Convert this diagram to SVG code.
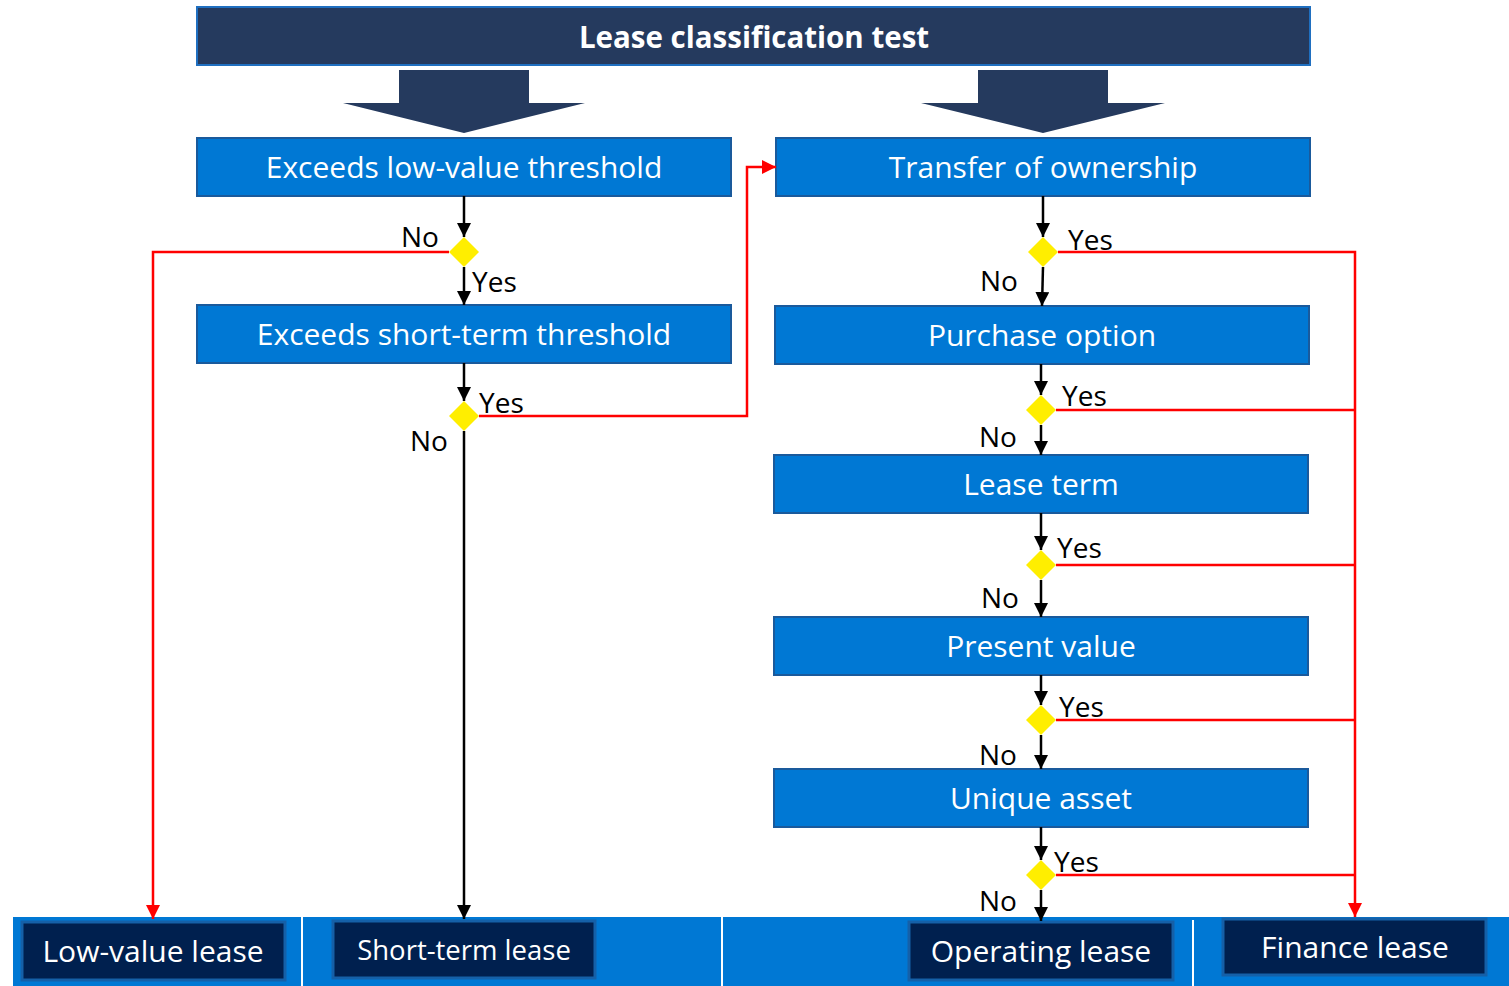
<svg xmlns="http://www.w3.org/2000/svg" width="1509" height="986" viewBox="0 0 1509 986">
<defs>
<style>
.box{fill:#0078d4;stroke:#1a5a9c;stroke-width:2}
.res{fill:#00204f;stroke:#1560a8;stroke-width:3}
.bt{font-family:"Open Sans","Noto Sans",sans-serif;font-size:30px;fill:#ffffff;text-anchor:middle}
.lb{font-family:"Open Sans","Noto Sans",sans-serif;font-size:28px;fill:#000000}
.dia{fill:#ffee00}
.blk{stroke:#000;stroke-width:2.5;fill:none;marker-end:url(#ab)}
.red{stroke:#ff0000;stroke-width:2.5;fill:none}
.reda{stroke:#ff0000;stroke-width:2.5;fill:none;marker-end:url(#ar)}
.big{fill:#253a5e}
</style>
<marker id="ab" markerWidth="14" markerHeight="14" refX="14" refY="7" orient="auto" markerUnits="userSpaceOnUse" viewBox="0 0 14 14">
<path d="M0,0 L14,7 L0,14 Z" fill="#000"/>
</marker>
<marker id="ar" markerWidth="14" markerHeight="14" refX="14" refY="7" orient="auto" markerUnits="userSpaceOnUse" viewBox="0 0 14 14">
<path d="M0,0 L14,7 L0,14 Z" fill="#ff0000"/>
</marker>
</defs>
<rect width="1509" height="986" fill="#ffffff"/>

<g id="title">
<rect x="197" y="7" width="1113" height="58" fill="#253a5e" stroke="#1f6fc0" stroke-width="2"/>
<text x="754" y="48" font-family="'Open Sans','Noto Sans',sans-serif" font-size="29.5" font-weight="bold" fill="#fff" text-anchor="middle">Lease classification test</text>
</g>

<g id="bigarrows">
<path class="big" d="M399,70 H529 V103 H585 L464,133 L343,103 H399 Z"/>
<path class="big" d="M978,70 H1108 V103 H1165 L1043,133 L921,103 H978 Z"/>
</g>

<g id="band">
<rect x="13" y="917" width="1496" height="69" fill="#0078d4"/>
<line x1="302" y1="917" x2="302" y2="986" stroke="#ffffff" stroke-width="2"/>
<line x1="722" y1="917" x2="722" y2="986" stroke="#ffffff" stroke-width="2"/>
<line x1="1193" y1="920" x2="1193" y2="986" stroke="#ffffff" stroke-width="2"/>
</g>

<g id="n-lowvalue"><rect class="box" x="197" y="138" width="534" height="58"/><text class="bt" x="464" y="178">Exceeds low-value threshold</text></g>
<g id="n-shortterm"><rect class="box" x="197" y="305" width="534" height="58"/><text class="bt" x="464" y="345">Exceeds short-term threshold</text></g>
<g id="n-transfer"><rect class="box" x="776" y="138" width="534" height="58"/><text class="bt" x="1043" y="178">Transfer of ownership</text></g>
<g id="n-purchase"><rect class="box" x="775" y="306" width="534" height="58"/><text class="bt" x="1042" y="346">Purchase option</text></g>
<g id="n-leaseterm"><rect class="box" x="774" y="455" width="534" height="58"/><text class="bt" x="1041" y="495">Lease term</text></g>
<g id="n-pv"><rect class="box" x="774" y="617" width="534" height="58"/><text class="bt" x="1041" y="657">Present value</text></g>
<g id="n-unique"><rect class="box" x="774" y="769" width="534" height="58"/><text class="bt" x="1041" y="809">Unique asset</text></g>

<g id="r-lowvalue"><rect class="res" x="22" y="922" width="263" height="58"/><text class="bt" x="153" y="962">Low-value lease</text></g>
<g id="r-shortterm"><rect class="res" x="333" y="921" width="262" height="57"/><text class="bt" x="464" y="960" style="font-size:27.5px">Short-term lease</text></g>
<g id="r-operating"><rect class="res" x="909" y="922" width="264" height="58"/><text class="bt" x="1041" y="962">Operating lease</text></g>
<g id="r-finance"><rect class="res" x="1223" y="919" width="263" height="56"/><text class="bt" x="1355" y="958">Finance lease</text></g>

<g id="decisions">
<path class="dia" d="M464,237 L479,252 L464,267 L449,252 Z"/>
<path class="dia" d="M464,401 L479,416 L464,431 L449,416 Z"/>
<path class="dia" d="M1043,237 L1058,252 L1043,267 L1028,252 Z"/>
<path class="dia" d="M1041,395 L1056,410 L1041,425 L1026,410 Z"/>
<path class="dia" d="M1041,550 L1056,565 L1041,580 L1026,565 Z"/>
<path class="dia" d="M1041,705 L1056,720 L1041,735 L1026,720 Z"/>
<path class="dia" d="M1041,860 L1056,875 L1041,890 L1026,875 Z"/>
</g>

<g id="connectors">
<path class="blk" d="M464,196 V237"/>
<path class="blk" d="M464,267 V305"/>
<path class="reda" d="M449,252 H153 V919"/>
<path class="blk" d="M464,363 V401"/>
<path class="reda" d="M479,416 H747 V167 H776"/>
<path class="blk" d="M464,431 V919"/>
<path class="blk" d="M1043,196 V237"/>
<path class="reda" d="M1058,252 H1355 V917"/>
<path class="blk" d="M1043,267 L1042,306"/>
<path class="blk" d="M1041,364 V395"/>
<path class="red" d="M1056,410 H1355"/>
<path class="blk" d="M1041,425 V455"/>
<path class="blk" d="M1041,513 V550"/>
<path class="red" d="M1056,565 H1355"/>
<path class="blk" d="M1041,580 V617"/>
<path class="blk" d="M1041,675 V705"/>
<path class="red" d="M1056,720 H1355"/>
<path class="blk" d="M1041,735 V769"/>
<path class="blk" d="M1041,827 V860"/>
<path class="red" d="M1056,875 H1355"/>
<path class="blk" d="M1041,890 V921"/>
</g>

<g id="labels">
<text class="lb" x="401" y="247">No</text>
<text class="lb" x="472" y="292">Yes</text>
<text class="lb" x="479" y="413">Yes</text>
<text class="lb" x="410" y="451">No</text>
<text class="lb" x="1068" y="250">Yes</text>
<text class="lb" x="980" y="291">No</text>
<text class="lb" x="1062" y="406">Yes</text>
<text class="lb" x="979" y="447">No</text>
<text class="lb" x="1057" y="558">Yes</text>
<text class="lb" x="981" y="608">No</text>
<text class="lb" x="1059" y="717">Yes</text>
<text class="lb" x="979" y="765">No</text>
<text class="lb" x="1054" y="872">Yes</text>
<text class="lb" x="979" y="911">No</text>
</g>
</svg>
